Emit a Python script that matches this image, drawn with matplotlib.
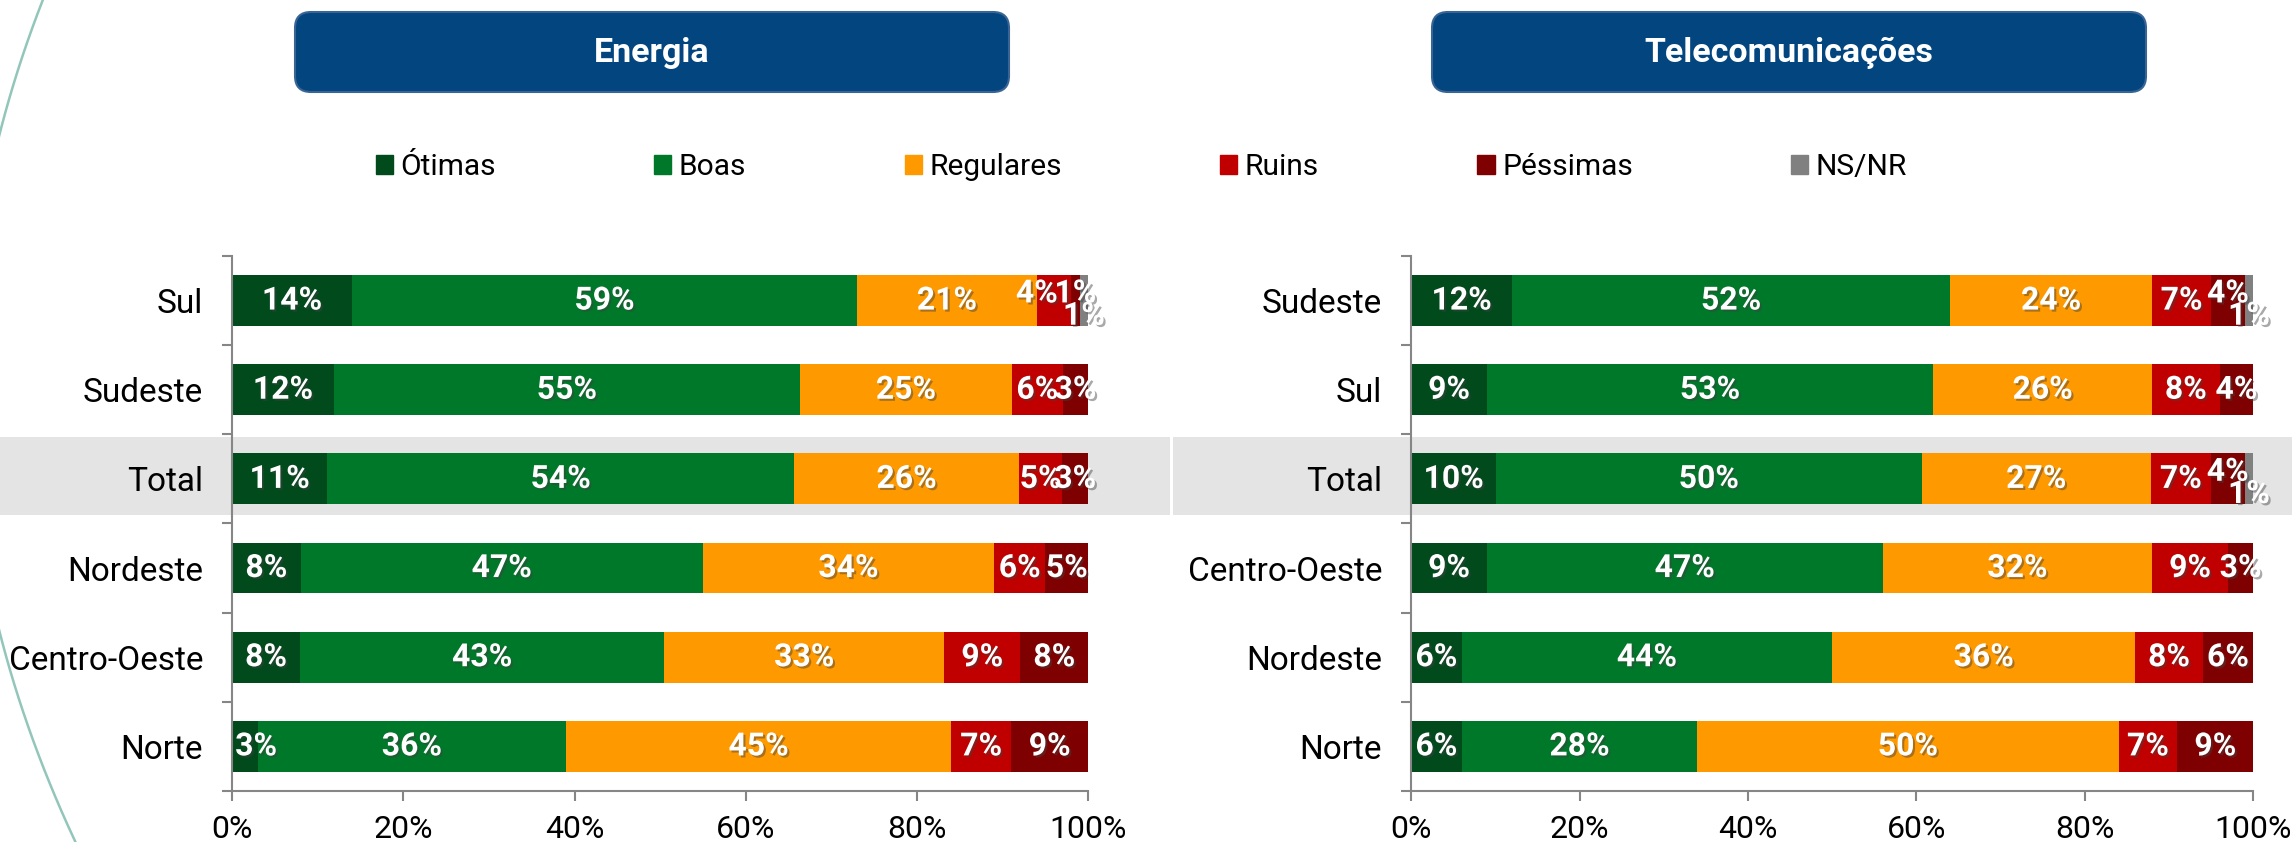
import numpy as np
import matplotlib.pyplot as plt
from matplotlib.patches import Rectangle, FancyBboxPatch
import matplotlib.patheffects as pe

plt.rcParams['font.family'] = ['Roboto', 'DejaVu Sans']

series = ['Ótimas', 'Boas', 'Regulares', 'Ruins', 'Péssimas', 'NS/NR']
colours = ['#004A1C', '#00782A', '#FF9900', '#C00000', '#7F0000', '#808080']
xticklabels = ['0%', '20%', '40%', '60%', '80%', '100%']

# Energia
energia_regioes = ['Sul', 'Sudeste', 'Total', 'Nordeste', 'Centro-Oeste', 'Norte']
energia_otimas = [14, 12, 11, 8, 8, 3]
energia_boas = [59, 55, 54, 47, 43, 36]
energia_regulares = [21, 25, 26, 34, 33, 45]
energia_ruins = [4, 6, 5, 6, 9, 7]
energia_pessimas = [1, 3, 3, 5, 8, 9]
energia_nsnr = [1, 0, 0, 0, 0, 0]

# Telecomunicacoes
telecom_regioes = ['Sudeste', 'Sul', 'Total', 'Centro-Oeste', 'Nordeste', 'Norte']
telecom_otimas = [12, 9, 10, 9, 6, 6]
telecom_boas = [52, 53, 50, 47, 44, 28]
telecom_regulares = [24, 26, 27, 32, 36, 50]
telecom_ruins = [7, 8, 7, 9, 8, 7]
telecom_pessimas = [4, 4, 4, 3, 6, 9]
telecom_nsnr = [1, 0, 1, 0, 0, 0]

shadow = [pe.SimplePatchShadow(offset=(1.5, -1.5), shadow_rgbFace='#404040', alpha=0.45),
          pe.Normal()]


def draw_panel(ax, regioes, valores):
    data = np.array(valores, dtype=float)
    pct = data / data.sum(axis=0) * 100  # 100% stacked, like the excel chart
    y = np.arange(len(regioes))
    left = np.zeros(len(regioes))
    for i in range(len(series)):
        ax.barh(y, pct[i], left=left, height=0.57, color=colours[i], linewidth=0)
        for j in range(len(regioes)):
            v = data[i, j]
            if v <= 0:
                continue
            dx, dy = 0, 0
            has_ns = data[5, j] > 0
            if i == 5:
                dy = 0.17
            elif has_ns and i == 4:
                dy = -0.08
            elif has_ns and i == 3 and v < 5:
                dx, dy = -2, -0.08
            # keep the first label inside the axes
            xc = max(left[j] + pct[i, j] / 2 + dx, 2.8)
            ax.text(xc, y[j] + dy, '%d%%' % v, color='white',
                    fontsize=23, fontweight='bold', ha='center', va='center',
                    path_effects=shadow, zorder=5)
        left += pct[i]

    ax.set_xlim(0, 100)
    ax.set_ylim(len(regioes) - 0.5, -0.5)
    ax.set_xticks([0, 20, 40, 60, 80, 100])
    ax.set_xticklabels(xticklabels)
    ax.set_yticks(y)
    ax.set_yticklabels(regioes)
    ax.set_yticks(np.arange(-0.5, len(regioes), 1), minor=True)
    ax.tick_params(axis='y', which='major', length=0, pad=21, labelsize=24)
    ax.tick_params(axis='y', which='minor', length=7, color='#868686', width=1.5)
    ax.tick_params(axis='x', length=7, color='#868686', width=1.5, labelsize=23, pad=10)
    for s in ['top', 'right']:
        ax.spines[s].set_visible(False)
    for s in ['left', 'bottom']:
        ax.spines[s].set_color('#868686')
        ax.spines[s].set_linewidth(1.5)
    ax.set_facecolor('none')


fig = plt.figure(figsize=(22.92, 8.42), dpi=100)

# background layer in pixel units: band, title boxes, decorative curve
bg = fig.add_axes([0, 0, 1, 1], zorder=0)
bg.set_xlim(0, 2292)
bg.set_ylim(842, 0)
bg.axis('off')
bg.add_patch(Rectangle((0, 437), 1170, 78, color='#E4E4E4', lw=0))
bg.add_patch(Rectangle((1173, 437), 1119, 78, color='#E4E4E4', lw=0))
yy = np.linspace(0, 842, 300)
bg.plot(5.1e-4 * (yy - 383) ** 2 - 32, yy, color='#93C6BB', lw=1.8)

for x0, titulo in [(305, 'Energia'), (1442, 'Telecomunicações')]:
    bg.add_patch(FancyBboxPatch((x0, 22), 694, 60, boxstyle='round,pad=10,rounding_size=16',
                                fc='#03457F', ec='#3A6494', lw=1.5))
    bg.text(x0 + 347, 53, titulo, color='white', fontsize=24.5, fontweight='bold',
            ha='center', va='center')

ax1 = fig.add_axes([0.1013, 0.0606, 0.3735, 0.6354], zorder=1)
draw_panel(ax1, energia_regioes,
           [energia_otimas, energia_boas, energia_regulares,
            energia_ruins, energia_pessimas, energia_nsnr])

ax2 = fig.add_axes([0.6157, 0.0606, 0.3674, 0.6354], zorder=1)
draw_panel(ax2, telecom_regioes,
           [telecom_otimas, telecom_boas, telecom_regulares,
            telecom_ruins, telecom_pessimas, telecom_nsnr])

handles = [Rectangle((0, 0), 1, 1, color=c) for c in colours]
fig.legend(handles, series, loc='center', bbox_to_anchor=(0.498, 0.8017), ncol=6,
           frameon=False, fontsize=21.5, handlelength=0.58, handleheight=0.58,
           handletextpad=0.25, columnspacing=5.3)

fig.savefig('out.png', dpi=100)
